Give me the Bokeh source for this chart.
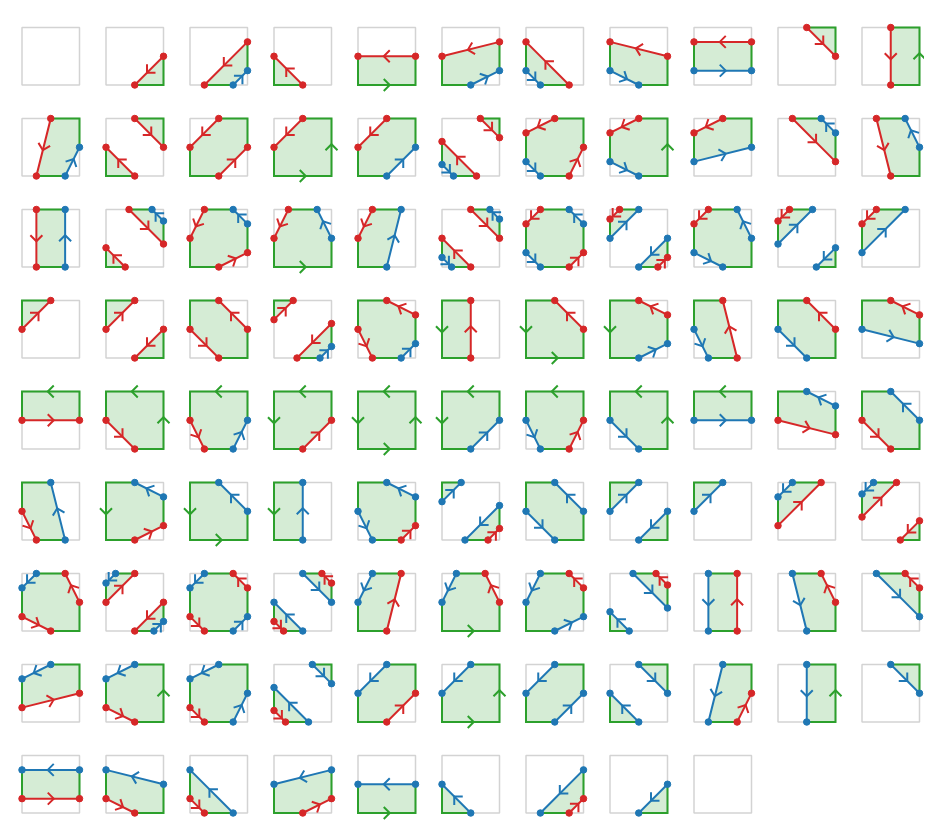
import math
from bokeh.plotting import figure
from bokeh.models import Range1d, ColumnDataSource
from bokeh.embed import file_html
from bokeh.resources import INLINE

# ---------------- data: corner values of each marching-squares cell ----------------
LEVELS = [0.5, 1.5]          # red = lower level, blue = upper level
N_COLS = 11
N = None

TL = [0, 0, 0, 0, 0, 0, 0, 0, 0, 0, 0,
      0, 0, 0, 0, 0, -0.5, 0, 0, 0, 0, 0,
      0, -0.5, 0, 0, 0, -1, 0, 0, 0, 0, 0,
      1, 1, 1, 1, 1, 1, 1, 1, 1, 1, 1,
      1, 1, 1, 1, 1, 1, 1, 1, 1, 1, 1,
      1, 1, 1, 1, 1, 1, 1, 1, 1, 2, 2,
      2, 2, 2, 3, 2, 2, 2, 2.5, 2, 2, 2,
      2, 2, 2, 2.5, 2, 2, 2, 2, 2, 2, 2,
      2, 2, 2, 2, 2, 2, 2, 2, 2]
TR = [0, 0, 0, 0, 0, 0, 0, 0, 0, 1, 1,
      1, 1, 1, 1, 1, 1, 1, 1, 1, 2, 2,
      2, 2, 2, 2, 2, 2, 2, 3, 2, 2.5, 2,
      0, 0, 0, -0.5, 0, 0, 0, 0, 0, 0, 0,
      1, 1, 1, 1, 1, 1, 1, 1, 1, 2, 2,
      2, 2, 2, 2, 2, 2.5, 2, 2, 2, 0, -0.5,
      0, -1, 0, 0, 0, 0, 0, 0, 0, 0, 0,
      1, 1, 1, 1, 1, 1, 1, 1, 1, 1, 1,
      2, 2, 2, 2, 2, 2, 2, 2, 2]
BL = [0, 0, 0, 1, 1, 1, 2, 2, 2, 0, 0,
      0, 1, 1, 1, 1, 2, 2, 2, 2, 0, 0,
      0, 1, 1, 1, 1, 2, 2, 3, 2, 2.5, 2,
      0, 0, 0, -0.5, 0, 1, 1, 1, 2, 2, 2,
      0, 0, 0, 1, 1, 1, 2, 2, 2, 0, 0,
      0, 1, 1, 1, 2, 2.5, 2, 2, 2, 0, -0.5,
      0, -1, 0, 0, 1, 1, 1, 1, 2, 2, 2,
      0, 0, 0, 0, 1, 1, 1, 1, 2, 2, 2,
      0, 0, 0, 1, 1, 1, 2, 2, 2]
BR = [0, 1, 2, 0, 1, 2, 0, 1, 2, 0, 1,
      2, 0, 0, 1, 2, -0.5, 0, 1, 2, 0, 1,
      2, -0.5, 0, 1, 2, -1, 0, 0, 1, 1, 2,
      0, 1, 1, 2, 2, 0, 1, 2, 0, 1, 2,
      0, 1, 2, 0, 1, 2, 0, 1, 2, 0, 1,
      2, 0, 1, 2, 0, 0, 1, 1, 2, 0, 1,
      1, 2, 2, 3, 0, 1, 2, 2.5, 0, 1, 2,
      0, 1, 2, 2.5, 0, 1, 2, 2, 0, 1, 2,
      0, 1, 2, 0, 1, 2, 0, 1, 2]
# band of the cell centre for saddle cells (None where it does not matter)
MID = [N, N, N, N, N, N, N, N, N, N, N,
       N, 0, 1, N, N, 0, 1, N, N, N, N,
       N, 0, 1, N, N, 0, 1, 2, 1, 2, N,
       N, 0, 1, 0, 1, N, N, N, N, N, N,
       N, N, N, N, N, N, N, N, N, N, N,
       N, N, N, N, 1, 2, 1, 2, N, N, 0,
       1, 0, 1, 2, N, N, 1, 2, N, N, N,
       N, N, 1, 2, N, N, 1, 2, N, N, N,
       N, N, N, N, N, N, N, N, N]

RED, BLUE, GREEN, GREY = "#d62728", "#1f77b4", "#2ca02c", "#d3d3d3"
LEVEL_COLORS = [RED, BLUE]

# ---------------- layout (pixels) ----------------
W, H = 924, 824
S = 57.5            # cell size in px
PITCH_X, PITCH_Y = 84.0, 91.0
LEFT0, BOTTOM0 = 21.5, 84.5   # canvas px of first cell's bottom-left
ARROW = 8.5 / S

CORNERS = [(0.0, 0.0), (1.0, 0.0), (1.0, 1.0), (0.0, 1.0)]  # BL, BR, TR, TL (ccw)


def band(z):
    if z < LEVELS[0]:
        return 0
    if z > LEVELS[1]:
        return 2
    return 1


def cell_geometry(zbl, zbr, ztr, ztl, mid):
    zc = [zbl, zbr, ztr, ztl]
    nodes = []
    for i in range(4):
        a, b = zc[i], zc[(i + 1) % 4]
        (x0, y0), (x1, y1) = CORNERS[i], CORNERS[(i + 1) % 4]
        nodes.append((x0, y0, a, "c", -1))
        cr = []
        for k, L in enumerate(LEVELS):
            if min(a, b) < L < max(a, b):
                t = (L - a) / (b - a)
                cr.append((t, k, L))
        cr.sort()
        for t, k, L in cr:
            nodes.append((x0 + t * (x1 - x0), y0 + t * (y1 - y0), L, "x", k))
    n = len(nodes)
    ib = [band((nodes[i][2] + nodes[(i + 1) % n][2]) / 2.0) for i in range(n)]

    pair = {}
    for k, L in enumerate(LEVELS):
        cs = [i for i in range(n) if nodes[i][3] == "x" and nodes[i][4] == k]
        if len(cs) == 2:
            pair[cs[0]] = cs[1]
            pair[cs[1]] = cs[0]
        elif len(cs) == 4:
            cut_low = mid is not None and mid > k
            a0 = 0
            for s in range(4):
                j = (cs[s] + 1) % n
                while nodes[j][3] != "c":
                    j = (j + 1) % n
                if (nodes[j][2] < L) == cut_low:
                    a0 = s
                    break
            for q in (0, 2):
                u, v = cs[(a0 + q) % 4], cs[(a0 + q + 1) % 4]
                pair[u] = v
                pair[v] = u

    visited = set()
    polys, runs, chords, garrows = [], [], [], []
    order = [i for i in range(n) if ib[i] == 1 and nodes[i][3] == "x"] + \
            [i for i in range(n) if ib[i] == 1 and nodes[i][3] == "c"]
    for start in order:
        if start in visited:
            continue
        poly, run = [], []
        k = start
        guard = 0
        while True:
            guard += 1
            if guard > 50:
                break
            visited.add(k)
            pt = nodes[k][:2]
            poly.append(pt)
            if not run:
                run.append(pt)
            j = (k + 1) % n
            run.append(nodes[j][:2])
            if nodes[k][3] == "c" and nodes[j][3] == "c":
                garrows.append((nodes[k][:2], nodes[j][:2]))
            if nodes[j][3] == "x" and ib[j] != 1:
                poly.append(nodes[j][:2])
                pj = pair[j]
                chords.append((nodes[j][:2], nodes[pj][:2], nodes[j][4]))
                runs.append(run)
                run = []
                k = pj
            else:
                k = j
            if k == start:
                break
        if run:
            if len(run) > 2 and run[0] == run[-1]:
                run.append(run[1])
            runs.append(run)
        polys.append(poly)
    dots = [(nd[0], nd[1], nd[4]) for nd in nodes if nd[3] == "x"]
    return polys, runs, chords, garrows, dots


def chevron(p0, p1, ox, oy):
    mx, my = (p0[0] + p1[0]) / 2.0, (p0[1] + p1[1]) / 2.0
    dx, dy = p1[0] - p0[0], p1[1] - p0[1]
    ln = math.hypot(dx, dy)
    dx, dy = dx / ln, dy / ln
    c = math.cos(math.pi / 4)
    ax, ay = mx + dx * ARROW * c / 2.0, my + dy * ARROW * c / 2.0
    pts = []
    for sgn in (1, -1):
        rx = dx * c - sgn * dy * c
        ry = sgn * dx * c + dy * c
        pts.append((ax - ARROW * rx, ay - ARROW * ry))
    xs = [pts[0][0] + ox, ax + ox, pts[1][0] + ox]
    ys = [pts[0][1] + oy, ay + oy, pts[1][1] + oy]
    return xs, ys


sq_x, sq_y = [], []
fill_xs, fill_ys = [], []
run_xs, run_ys = [], []
arr_xs, arr_ys, arr_c = [], [], []
ch_xs, ch_ys, ch_c = [], [], []
dot_x, dot_y, dot_c = [], [], []

for idx in range(len(TL)):
    r, c = divmod(idx, N_COLS)
    ox = c * PITCH_X / S
    oy = -r * PITCH_Y / S
    sq_x.append(ox + 0.5)
    sq_y.append(oy + 0.5)
    polys, runs, chords, garrows, dots = cell_geometry(BL[idx], BR[idx], TR[idx], TL[idx], MID[idx])
    for poly in polys:
        fill_xs.append([q[0] + ox for q in poly])
        fill_ys.append([q[1] + oy for q in poly])
    for run in runs:
        run_xs.append([q[0] + ox for q in run])
        run_ys.append([q[1] + oy for q in run])
    for p0, p1 in garrows:
        xs, ys = chevron(p0, p1, ox, oy)
        arr_xs.append(xs); arr_ys.append(ys); arr_c.append(GREEN)
    for p0, p1, k in chords:
        ch_xs.append([p0[0] + ox, p1[0] + ox])
        ch_ys.append([p0[1] + oy, p1[1] + oy])
        ch_c.append(LEVEL_COLORS[k])
        xs, ys = chevron(p0, p1, ox, oy)
        arr_xs.append(xs); arr_ys.append(ys); arr_c.append(LEVEL_COLORS[k])
    for x, y, k in dots:
        dot_x.append(x + ox); dot_y.append(y + oy); dot_c.append(LEVEL_COLORS[k])

x0 = -LEFT0 / S
y1 = BOTTOM0 / S
p = figure(width=W, height=H,
           x_range=Range1d(x0, x0 + W / S), y_range=Range1d(y1 - H / S, y1),
           output_backend="svg", toolbar_location=None, min_border=0,
           x_axis_location=None, y_axis_location=None)
p.grid.visible = False
p.outline_line_color = None

p.rect(x=sq_x, y=sq_y, width=1, height=1, fill_color=None, line_color=GREY, line_width=1.5)
p.patches(fill_xs, fill_ys, fill_color=GREEN, fill_alpha=0.2, line_color=None)
p.multi_line(run_xs, run_ys, line_color=GREEN, line_width=2, line_join="miter")
p.multi_line("xs", "ys", line_color="color", line_width=2,
             source=ColumnDataSource(dict(xs=ch_xs, ys=ch_ys, color=ch_c)))
p.multi_line("xs", "ys", line_color="color", line_width=2, line_join="miter",
             source=ColumnDataSource(dict(xs=arr_xs, ys=arr_ys, color=arr_c)))
p.scatter("x", "y", size=6.5, color="color",
          source=ColumnDataSource(dict(x=dot_x, y=dot_y, color=dot_c)))

open("out.html", "w").write(file_html(p, INLINE))
